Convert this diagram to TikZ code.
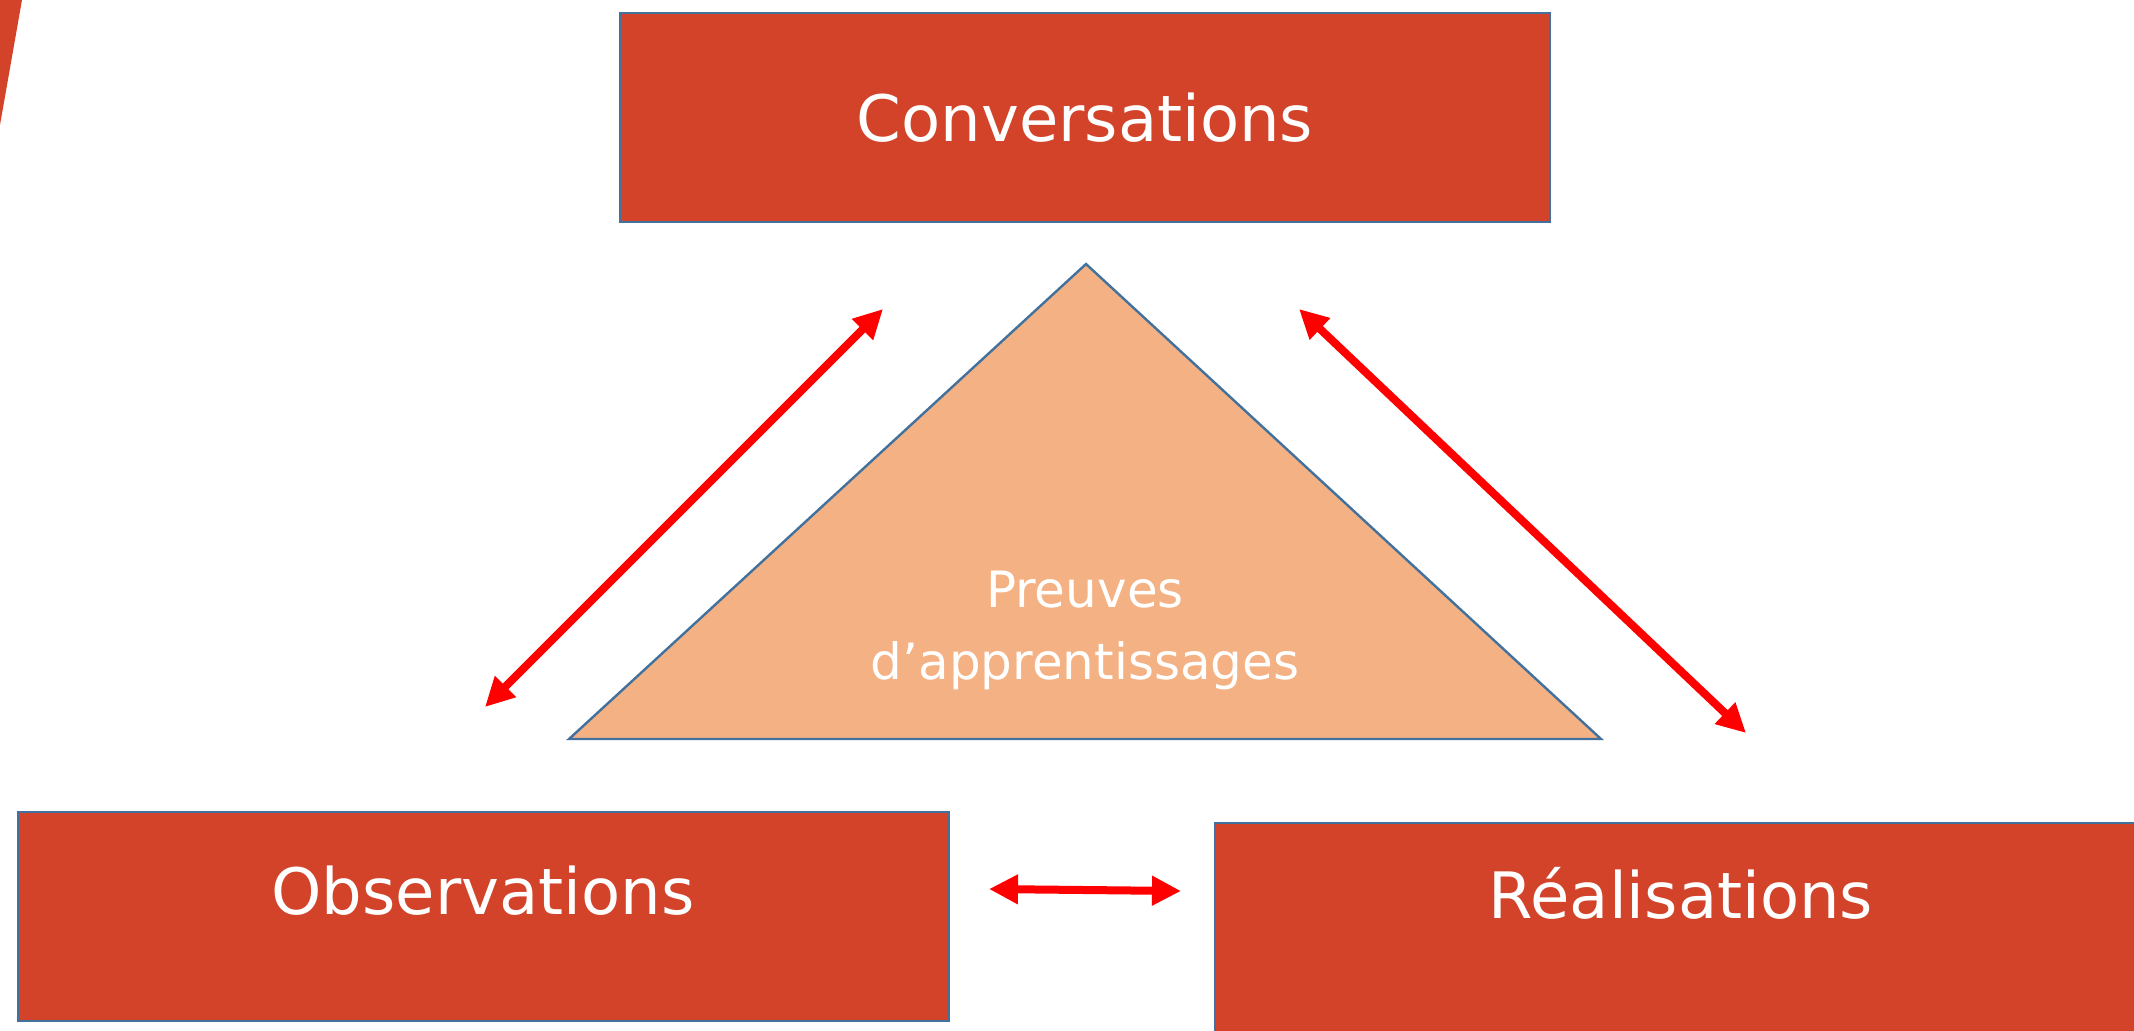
\documentclass[tikz,border=0pt]{standalone}
\usepackage{fontspec}
\setmainfont{DejaVu Sans}
\usetikzlibrary{arrows.meta}
\definecolor{boxred}{RGB}{210,67,41}
\definecolor{edgeblue}{RGB}{65,113,156}
\definecolor{trifill}{RGB}{244,177,131}
\definecolor{arrred}{RGB}{255,0,0}
\begin{document}
\begin{tikzpicture}[x=0.5pt,y=-0.5pt,
  box/.style={draw=edgeblue, line width=1.2pt, fill=boxred, text=white, inner sep=0pt},
  bigtext/.style={text=white, font=\fontsize{32}{38}\selectfont, inner sep=0pt},
  link/.style={draw=arrred, line width=4pt, {Triangle[length=14.5pt,width=14pt]}-{Triangle[length=14.5pt,width=14pt]}}]
\useasboundingbox (0,0) rectangle (2134,1030);
\clip (0,0) rectangle (2134,1030);
% sliver of a shape at the top left corner
\fill[boxred] (-5,0) -- (22,0) -- (0,125) -- (-5,125) -- cycle;
% boxes
\node[box, minimum width=465pt, minimum height=104.5pt] (conv) at (1085,117.5) {};
\node[bigtext] (convtext) at (conv.center) {Conversations};
\node[box, minimum width=465.5pt, minimum height=104.5pt] (obs) at (483.5,916.5) {};
\node[bigtext] (obstext) at (483,891) {Observations};
\node[box, minimum width=472.5pt, minimum height=118.5pt] (real) at (1687.5,941.5) {};
\node[bigtext] (realtext) at (1681,893) {Réalisations};
% triangle
\coordinate (apex) at (1086,264);
\coordinate (bl) at (569,739);
\coordinate (br) at (1601,739);
\draw[draw=edgeblue, line width=1.2pt, fill=trifill] (apex) -- (br) -- (bl) -- cycle;
\node[text=white, align=center, inner sep=0pt, font=\fontsize{25}{36}\selectfont] (tritext) at (1085,630) {Preuves\\d’apprentissages};
% arrows
\coordinate (l1) at (883,309);
\coordinate (l2) at (485,707);
\coordinate (r1) at (1299,309);
\coordinate (r2) at (1746,733);
\coordinate (b1) at (989,889);
\coordinate (b2) at (1181,891);
\draw[link] (l2) -- (l1);
\draw[link] (r1) -- (r2);
\draw[link] (b1) -- (b2);
\end{tikzpicture}
\end{document}
